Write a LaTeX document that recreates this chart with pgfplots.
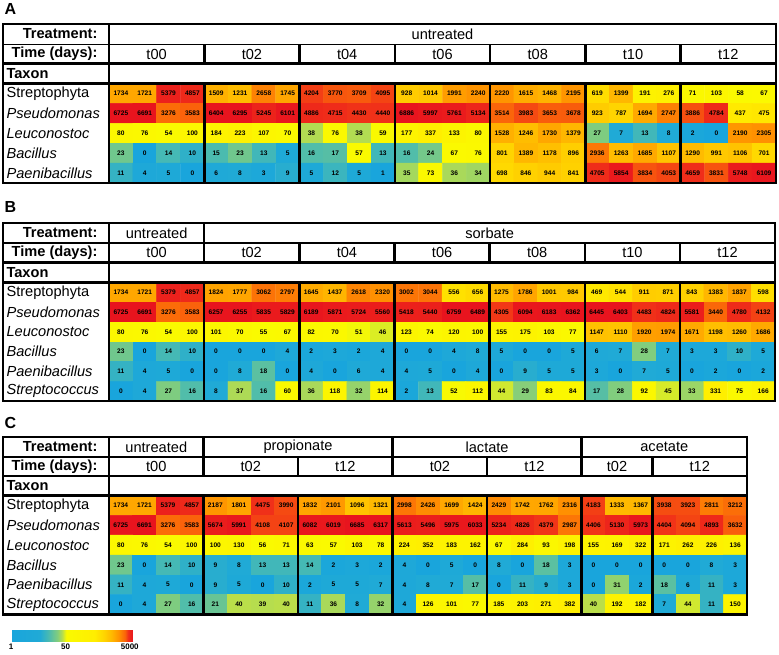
\documentclass[border=0pt]{standalone}
\usepackage{fontspec}
\setmainfont{Liberation Sans}
\usepackage{pgfplots}
\pgfplotsset{compat=1.18}
\usepackage{pgfplotstable}
\usetikzlibrary{calc}

\newcommand{\bigf}{\fontsize{14.6}{16}\selectfont}
\newcommand{\cellf}{\bfseries\fontsize{6.6}{7}\selectfont}
\newcommand{\letf}{\bfseries\fontsize{16}{18}\selectfont}
\tikzset{thk/.style={line width=2.5pt}, med/.style={line width=1.8pt}}

\pgfplotsset{
  heat/.style={colormap={heat}{rgb255(0cm)=(25,165,220); rgb255(0.9cm)=(32,170,214); rgb255(1.15cm)=(70,185,180); rgb255(1.45cm)=(130,205,125); rgb255(1.6cm)=(185,222,75); rgb255(1.72cm)=(250,250,0); rgb255(2.6cm)=(255,238,0); rgb255(2.9cm)=(255,212,0); rgb255(3.15cm)=(255,182,0); rgb255(3.35cm)=(255,148,0); rgb255(3.55cm)=(250,100,10); rgb255(3.65cm)=(240,48,25); rgb255(3.8cm)=(232,20,30)}},
}

% Panel A: 5 taxa x 28 samples (row-major)
\pgfplotstableread[row sep=\\]{
v\\
1734\\1721\\5379\\4857\\1509\\1231\\2658\\1745\\4204\\3770\\3709\\4095\\928\\1014\\1991\\2240\\2220\\1615\\1468\\2195\\619\\1399\\191\\276\\71\\103\\58\\67\\
6725\\6691\\3276\\3583\\6404\\6295\\5245\\6101\\4886\\4715\\4430\\4440\\6886\\5997\\5761\\5134\\3514\\3983\\3653\\3678\\923\\787\\1694\\2747\\3886\\4784\\437\\475\\
80\\76\\54\\100\\184\\223\\107\\70\\38\\76\\38\\59\\177\\337\\133\\80\\1528\\1246\\1730\\1379\\27\\7\\13\\8\\2\\0\\2190\\2305\\
23\\0\\14\\10\\15\\23\\13\\5\\16\\17\\57\\13\\16\\24\\67\\76\\801\\1389\\1178\\896\\2936\\1263\\1685\\1107\\1290\\991\\1106\\701\\
11\\4\\5\\0\\6\\8\\3\\9\\5\\12\\5\\1\\35\\73\\36\\34\\698\\846\\944\\841\\4705\\5854\\3834\\4053\\4659\\3831\\5748\\6109\\
}\tabA

% Panel B: 6 taxa x 28 samples
\pgfplotstableread[row sep=\\]{
v\\
1734\\1721\\5379\\4857\\1824\\1777\\3062\\2797\\1645\\1437\\2618\\2320\\3002\\3044\\556\\656\\1275\\1786\\1001\\984\\469\\544\\911\\871\\843\\1383\\1837\\598\\
6725\\6691\\3276\\3583\\6257\\6255\\5835\\5829\\6189\\5871\\5724\\5560\\5418\\5440\\6759\\6489\\4305\\6094\\6183\\6362\\6445\\6403\\4483\\4824\\5581\\3440\\4780\\4132\\
80\\76\\54\\100\\101\\70\\55\\67\\82\\70\\51\\46\\123\\74\\120\\100\\155\\175\\103\\77\\1147\\1110\\1920\\1974\\1671\\1198\\1260\\1686\\
23\\0\\14\\10\\0\\0\\0\\4\\2\\3\\2\\4\\0\\0\\4\\8\\5\\0\\0\\5\\6\\7\\28\\7\\3\\3\\10\\5\\
11\\4\\5\\0\\0\\8\\18\\0\\4\\0\\6\\4\\4\\5\\0\\4\\0\\9\\5\\5\\3\\0\\7\\5\\0\\2\\0\\2\\
0\\4\\27\\16\\8\\37\\16\\60\\36\\118\\32\\114\\2\\13\\52\\112\\44\\29\\83\\84\\17\\28\\92\\45\\33\\331\\75\\166\\
}\tabB

% Panel C: 6 taxa x 27 samples
\pgfplotstableread[row sep=\\]{
v\\
1734\\1721\\5379\\4857\\2187\\1801\\4475\\3990\\1832\\2101\\1096\\1321\\2998\\2426\\1699\\1424\\2429\\1742\\1762\\2316\\4183\\1333\\1367\\3938\\3923\\2811\\3212\\
6725\\6691\\3276\\3583\\5674\\5991\\4108\\4107\\6082\\6019\\6685\\6317\\5613\\5496\\5975\\6033\\5234\\4826\\4379\\2987\\4406\\5130\\5973\\4404\\4094\\4893\\3632\\
80\\76\\54\\100\\100\\130\\56\\71\\63\\57\\103\\78\\224\\352\\183\\162\\67\\284\\93\\198\\155\\169\\322\\171\\262\\226\\136\\
23\\0\\14\\10\\9\\8\\13\\13\\14\\2\\3\\2\\4\\0\\5\\0\\8\\0\\18\\3\\0\\0\\0\\0\\0\\8\\3\\
11\\4\\5\\0\\9\\5\\0\\10\\2\\5\\5\\7\\4\\8\\7\\17\\0\\11\\9\\3\\0\\31\\2\\18\\6\\11\\3\\
0\\4\\27\\16\\21\\40\\39\\40\\11\\36\\8\\32\\4\\126\\101\\77\\185\\203\\271\\382\\40\\192\\182\\7\\44\\11\\150\\
}\tabC

\pgfplotsset{
  cells/.style={matrix plot*, mesh/cols=#1, point meta=explicit},
  nums/.style={only marks, mark=none, point meta=explicit symbolic, nodes near coords, nodes near coords align=center,
    every node near coord/.append style={font=\cellf, inner sep=0pt, text=black}},
}

\begin{document}
\begin{tikzpicture}
\begin{axis}[
  at={(0,0)}, anchor=north west,
  width=779pt, height=655pt, scale only axis,
  xmin=0, xmax=779, ymin=0, ymax=655, y dir=reverse,
  hide axis, clip=false,
  heat, point meta min=0, point meta max=3.8,
  colorbar horizontal,
  colorbar style={
    at={($(parent axis.north west)+(11pt,-633pt)$)}, anchor=south west,
    width=122pt, height=11pt, scale only axis,
    xtick={0,1.699,3.699}, xticklabels={1,50,5000},
    xticklabel style={font=\bfseries\fontsize{8}{9}\selectfont, inner sep=1pt, yshift=-1.5pt},
    major tick length=0pt, axis line style={draw=none},
  },
]
\path (0,0) rectangle (779,655);

% ---------- Panel A ----------
\addplot[cells=28] table[x index=0, y index=0, x expr={109+23.82*(mod(\coordindex,28)+0.5)}, y expr={83.5+19.9*(floor(\coordindex/28)+0.5)}, meta expr={ln(max(\thisrow{v},1))/ln(10)}] {\tabA};
\addplot[nums] table[x index=0, y index=0, x expr={109+23.82*(mod(\coordindex,28)+0.5)}, y expr={83.5+19.9*(floor(\coordindex/28)+0.5)}, meta=v] {\tabA};

% ---------- Panel B ----------
\addplot[cells=28] table[x index=0, y index=0, x expr={109+23.79*(mod(\coordindex,28)+0.5)}, y expr={282.5+19.75*(floor(\coordindex/28)+0.5)}, meta expr={ln(max(\thisrow{v},1))/ln(10)}] {\tabB};
\addplot[nums] table[x index=0, y index=0, x expr={109+23.79*(mod(\coordindex,28)+0.5)}, y expr={282.5+19.75*(floor(\coordindex/28)+0.5)}, meta=v] {\tabB};

% ---------- Panel C ----------
\addplot[cells=27] table[x index=0, y index=0, x expr={109+23.63*(mod(\coordindex,27)+0.5)}, y expr={495.5+19.83*(floor(\coordindex/27)+0.5)}, meta expr={ln(max(\thisrow{v},1))/ln(10)}] {\tabC};
\addplot[nums] table[x index=0, y index=0, x expr={109+23.63*(mod(\coordindex,27)+0.5)}, y expr={495.5+19.83*(floor(\coordindex/27)+0.5)}, meta=v] {\tabC};

% ===== Frames and text, panel A =====
\node[font=\letf, anchor=west] at (1,9) {A};
\draw[thk] (3,24) rectangle (776,183);
\draw[thk] (109,24) -- (109,183);
\draw[med] (3,44.5) -- (776,44.5);
\draw[thk] (3,63.5) -- (776,63.5);
\draw[thk] (3,83.5) -- (776,83.5);
\draw[thk] (204.28,44.5)--(204.28,63.5) (299.56,44.5)--(299.56,63.5) (394.84,44.5)--(394.84,63.5) (490.12,44.5)--(490.12,63.5) (585.4,44.5)--(585.4,63.5) (680.68,44.5)--(680.68,63.5);
\draw[thk] (204.28,83.5)--(204.28,183) (299.56,83.5)--(299.56,183) (394.84,83.5)--(394.84,183) (490.12,83.5)--(490.12,183) (585.4,83.5)--(585.4,183) (680.68,83.5)--(680.68,183);
\node[font=\bigf\bfseries, anchor=east] at (101,34) {Treatment:};
\node[font=\bigf\bfseries, anchor=east] at (101,54) {Time (days):};
\node[font=\bigf\bfseries, anchor=west] at (3,73.5) {Taxon};
\node[font=\bigf] at (442.5,34) {untreated};
\node[font=\bigf] at (156.6,54) {t00};
\node[font=\bigf] at (251.9,54) {t02};
\node[font=\bigf] at (347.2,54) {t04};
\node[font=\bigf] at (442.5,54) {t06};
\node[font=\bigf] at (537.8,54) {t08};
\node[font=\bigf] at (633.0,54) {t10};
\node[font=\bigf] at (728.3,54) {t12};
\node[font=\bigf, anchor=west] at (3,93.5) {Streptophyta};
\node[font=\bigf\itshape, anchor=west] at (3,113.3) {Pseudomonas};
\node[font=\bigf\itshape, anchor=west] at (3,133.2) {Leuconostoc};
\node[font=\bigf\itshape, anchor=west] at (3,153.1) {Bacillus};
\node[font=\bigf\itshape, anchor=west] at (3,173.0) {Paenibacillus};

% ===== Panel B =====
\node[font=\letf, anchor=west] at (1,207) {B};
\draw[thk] (3,223) rectangle (775,401);
\draw[thk] (109,223) -- (109,401);
\draw[med] (3,243) -- (775,243);
\draw[thk] (3,262.5) -- (775,262.5);
\draw[thk] (3,282.5) -- (775,282.5);
\draw[thk] (204.16,223)--(204.16,243);
\draw[thk] (204.16,243)--(204.16,262.5) (299.32,243)--(299.32,262.5) (394.48,243)--(394.48,262.5) (489.64,243)--(489.64,262.5) (584.8,243)--(584.8,262.5) (679.96,243)--(679.96,262.5);
\draw[thk] (204.16,282.5)--(204.16,401) (299.32,282.5)--(299.32,401) (394.48,282.5)--(394.48,401) (489.64,282.5)--(489.64,401) (584.8,282.5)--(584.8,401) (679.96,282.5)--(679.96,401);
\node[font=\bigf\bfseries, anchor=east] at (101,233) {Treatment:};
\node[font=\bigf\bfseries, anchor=east] at (101,252.7) {Time (days):};
\node[font=\bigf\bfseries, anchor=west] at (3,272.5) {Taxon};
\node[font=\bigf] at (156.6,233) {untreated};
\node[font=\bigf] at (489.6,233) {sorbate};
\node[font=\bigf] at (156.6,252.7) {t00};
\node[font=\bigf] at (251.7,252.7) {t02};
\node[font=\bigf] at (346.9,252.7) {t04};
\node[font=\bigf] at (442.1,252.7) {t06};
\node[font=\bigf] at (537.2,252.7) {t08};
\node[font=\bigf] at (632.4,252.7) {t10};
\node[font=\bigf] at (727.5,252.7) {t12};
\node[font=\bigf, anchor=west] at (3,292.4) {Streptophyta};
\node[font=\bigf\itshape, anchor=west] at (3,312.1) {Pseudomonas};
\node[font=\bigf\itshape, anchor=west] at (3,331.9) {Leuconostoc};
\node[font=\bigf\itshape, anchor=west] at (3,351.6) {Bacillus};
\node[font=\bigf\itshape, anchor=west] at (3,371.4) {Paenibacillus};
\node[font=\bigf\itshape, anchor=west] at (3,391.1) {Streptococcus};

% ===== Panel C =====
\node[font=\letf, anchor=west] at (1,423) {C};
\draw[thk] (3,437) rectangle (747,614.5);
\draw[thk] (109,437) -- (109,614.5);
\draw[med] (3,457) -- (747,457);
\draw[thk] (3,476) -- (747,476);
\draw[thk] (3,495.5) -- (747,495.5);
\draw[thk] (203.5,437)--(203.5,457) (392.6,437)--(392.6,457) (581.6,437)--(581.6,457);
\draw[thk] (203.5,457)--(203.5,476) (298.0,457)--(298.0,476) (392.6,457)--(392.6,476) (487.1,457)--(487.1,476) (581.6,457)--(581.6,476) (652.5,457)--(652.5,476);
\draw[thk] (203.5,495.5)--(203.5,614.5) (298.0,495.5)--(298.0,614.5) (392.6,495.5)--(392.6,614.5) (487.1,495.5)--(487.1,614.5) (581.6,495.5)--(581.6,614.5) (652.5,495.5)--(652.5,614.5);
\node[font=\bigf\bfseries, anchor=east] at (101,447) {Treatment:};
\node[font=\bigf\bfseries, anchor=east] at (101,466.5) {Time (days):};
\node[font=\bigf\bfseries, anchor=west] at (3,485.7) {Taxon};
\node[font=\bigf] at (156.3,447) {untreated};
\node[font=\bigf] at (298.0,447) {propionate};
\node[font=\bigf] at (487.1,447) {lactate};
\node[font=\bigf] at (664.3,447) {acetate};
\node[font=\bigf] at (156.3,466.5) {t00};
\node[font=\bigf] at (250.8,466.5) {t02};
\node[font=\bigf] at (345.3,466.5) {t12};
\node[font=\bigf] at (439.9,466.5) {t02};
\node[font=\bigf] at (534.4,466.5) {t12};
\node[font=\bigf] at (617.0,466.5) {t02};
\node[font=\bigf] at (699.8,466.5) {t12};
\node[font=\bigf, anchor=west] at (3,505.4) {Streptophyta};
\node[font=\bigf\itshape, anchor=west] at (3,525.2) {Pseudomonas};
\node[font=\bigf\itshape, anchor=west] at (3,545.1) {Leuconostoc};
\node[font=\bigf\itshape, anchor=west] at (3,564.9) {Bacillus};
\node[font=\bigf\itshape, anchor=west] at (3,584.7) {Paenibacillus};
\node[font=\bigf\itshape, anchor=west] at (3,604.6) {Streptococcus};
\end{axis}
\end{tikzpicture}
\end{document}
